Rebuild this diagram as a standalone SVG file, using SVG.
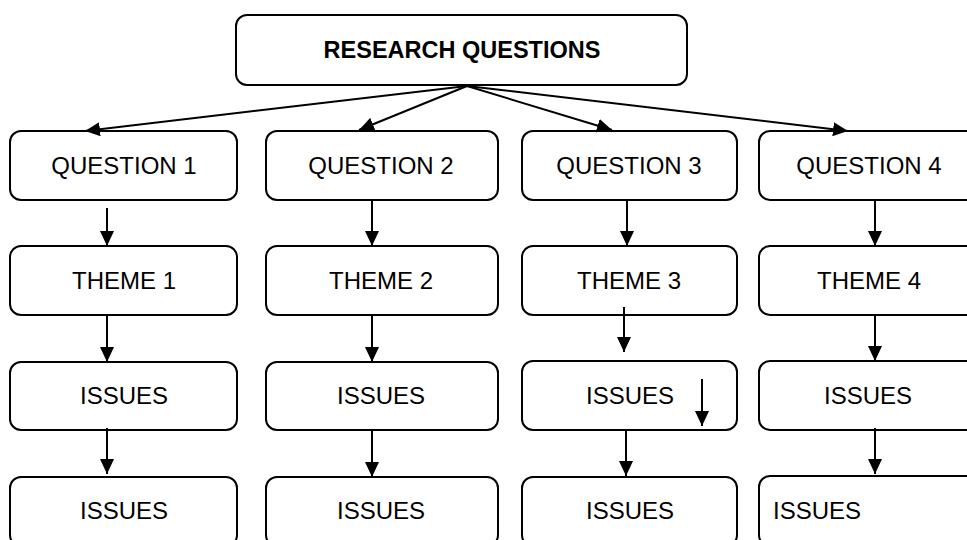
<svg xmlns="http://www.w3.org/2000/svg" width="967" height="540" viewBox="0 0 967 540">
<style>
.box{fill:#fff;stroke:#000;stroke-width:2}
.t{font-family:"Liberation Sans",Arial,sans-serif;font-size:24px;fill:#000;text-anchor:middle}
.b{font-weight:bold;font-size:23.5px}
.c{fill:none;stroke:#000;stroke-width:2;marker-end:url(#ah)}
</style>
<defs>
<marker id="ah" markerUnits="userSpaceOnUse" markerWidth="15" markerHeight="14" refX="15" refY="7" orient="auto">
<path d="M0,0 L15,7 L0,14 z" fill="#000"/>
</marker>
</defs>
<rect width="967" height="540" fill="#fff"/>
<g id="root"><rect class="box" x="236" y="15" width="451" height="70" rx="11"/><text class="t b" x="462" y="58">RESEARCH QUESTIONS</text></g>
<g id="q1"><rect class="box" x="10" y="131" width="227" height="69" rx="11"/><text class="t" x="124" y="174">QUESTION 1</text></g>
<g id="q2"><rect class="box" x="266" y="131" width="232" height="69" rx="11"/><text class="t" x="381" y="174">QUESTION 2</text></g>
<g id="q3"><rect class="box" x="522" y="131" width="215" height="69" rx="11"/><text class="t" x="629" y="174">QUESTION 3</text></g>
<g id="q4"><rect class="box" x="759" y="131" width="227" height="69" rx="11"/><text class="t" x="869" y="174">QUESTION 4</text></g>
<g id="t1"><rect class="box" x="10" y="246" width="227" height="69" rx="11"/><text class="t" x="124" y="289">THEME 1</text></g>
<g id="t2"><rect class="box" x="266" y="246" width="232" height="69" rx="11"/><text class="t" x="381" y="289">THEME 2</text></g>
<g id="t3"><rect class="box" x="522" y="246" width="215" height="69" rx="11"/><text class="t" x="629" y="289">THEME 3</text></g>
<g id="t4"><rect class="box" x="759" y="246" width="227" height="69" rx="11"/><text class="t" x="869" y="289">THEME 4</text></g>
<g id="i1"><rect class="box" x="10" y="362" width="227" height="68" rx="11"/><text class="t" x="124" y="404">ISSUES</text></g>
<g id="i2"><rect class="box" x="266" y="362" width="232" height="68" rx="11"/><text class="t" x="381" y="404">ISSUES</text></g>
<g id="i3"><rect class="box" x="522" y="361" width="215" height="69" rx="11"/><text class="t" x="630" y="404">ISSUES</text></g>
<g id="i4"><rect class="box" x="759" y="361" width="227" height="69" rx="11"/><text class="t" x="868" y="404">ISSUES</text></g>
<g id="j1"><rect class="box" x="10" y="477" width="227" height="69" rx="11"/><text class="t" x="124" y="519">ISSUES</text></g>
<g id="j2"><rect class="box" x="266" y="477" width="232" height="69" rx="11"/><text class="t" x="381" y="519">ISSUES</text></g>
<g id="j3"><rect class="box" x="522" y="477" width="215" height="69" rx="11"/><text class="t" x="630" y="519">ISSUES</text></g>
<g id="j4"><rect class="box" x="759" y="476" width="227" height="70" rx="11"/><text class="t" x="773" y="519" style="text-anchor:start">ISSUES</text></g>
<g id="connectors">
<line class="c" x1="467" y1="86" x2="85" y2="131"/>
<line class="c" x1="467" y1="86" x2="359" y2="130"/>
<line class="c" x1="467" y1="86" x2="612" y2="130"/>
<line class="c" x1="467" y1="86" x2="848" y2="131"/>
<line class="c" x1="107" y1="208" x2="107" y2="246"/>
<line class="c" x1="372" y1="200" x2="372" y2="246"/>
<line class="c" x1="627" y1="200" x2="627" y2="246"/>
<line class="c" x1="875" y1="200" x2="875" y2="246"/>
<line class="c" x1="107" y1="315" x2="107" y2="362"/>
<line class="c" x1="372" y1="315" x2="372" y2="362"/>
<line class="c" x1="624" y1="307" x2="624" y2="352"/>
<line class="c" x1="875" y1="315" x2="875" y2="361"/>
<line class="c" x1="702" y1="379" x2="702" y2="426"/>
<line class="c" x1="107" y1="428" x2="107" y2="474"/>
<line class="c" x1="372" y1="430" x2="372" y2="477"/>
<line class="c" x1="626" y1="430" x2="626" y2="476"/>
<line class="c" x1="875" y1="428" x2="875" y2="474"/>
</g>
</svg>
